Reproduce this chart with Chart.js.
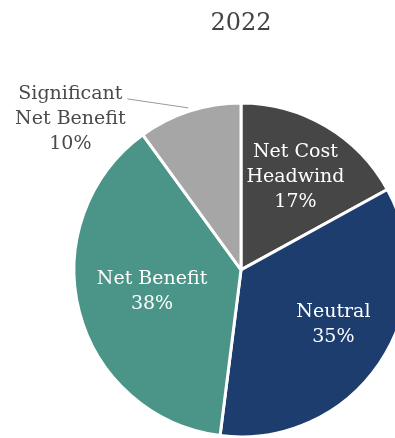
<!DOCTYPE html>
<html>
<head>
<meta charset="utf-8">
<script src="https://cdn.jsdelivr.net/npm/chart.js@4/dist/chart.umd.min.js"></script>
<style>
  html, body { margin: 0; padding: 0; background: #fff; overflow: hidden; }
  body { width: 395px; height: 438px; position: relative; }
  #pie { position: absolute; left: 0; top: 0; }
</style>
</head>
<body>
<canvas id="pie" width="482" height="492"></canvas>
<script>
// Shares for 2022, clockwise from 12 o'clock
const categories = ['Net Cost Headwind', 'Neutral', 'Net Benefit', 'Significant Net Benefit'];
const shares = [17, 35, 38, 10];
const sliceColors = ['#464646', '#1c3d6d', '#4a9488', '#a6a6a6'];
const labelLines = [['Net Cost', 'Headwind'], ['Neutral'], ['Net Benefit'], ['Significant', 'Net Benefit']];

const FONT = '"DejaVu Serif", "Liberation Serif", serif';

// label placement per slice: fraction of radius along the slice's middle angle
const labelSpots = [
  { r: 0.64, dx: 0, dy: -1, inside: true },
  { r: 0.64, dx: 4, dy: -5, inside: true },
  { r: 0.55, dx: 0, dy: -1, inside: true },
  { r: 1.02, inside: false }
];

const sliceLabels = {
  id: 'sliceLabels',
  afterDatasetsDraw(chart) {
    const ctx = chart.ctx;
    const arcs = chart.getDatasetMeta(0).data;
    ctx.save();
    ctx.font = '19px ' + FONT;
    ctx.textAlign = 'center';
    ctx.textBaseline = 'middle';
    const lh = 25;
    arcs.forEach((arc, i) => {
      const { x, y, startAngle, endAngle, outerRadius } = arc.getProps(['x', 'y', 'startAngle', 'endAngle', 'outerRadius'], true);
      const mid = (startAngle + endAngle) / 2;
      const spot = labelSpots[i];
      const lines = labelLines[i].concat([shares[i] + '%']);
      if (spot.inside) {
        const cx = x + Math.cos(mid) * outerRadius * spot.r + spot.dx;
        const cy = y + Math.sin(mid) * outerRadius * spot.r + spot.dy;
        ctx.fillStyle = '#ffffff';
        lines.forEach((t, k) => ctx.fillText(t, cx, cy + (k - (lines.length - 1) / 2) * lh));
      } else {
        // outside label with a leader line
        const ax = x + Math.cos(mid) * outerRadius * spot.r;
        const ay = y + Math.sin(mid) * outerRadius * spot.r;
        const ex = ax - 61, ey = ay - 9;
        ctx.strokeStyle = '#9a9a9a';
        ctx.lineWidth = 1;
        ctx.beginPath();
        ctx.moveTo(ax, ay);
        ctx.lineTo(ex, ey);
        ctx.stroke();
        const tx = ex - 57, ty = ey - 5;
        ctx.fillStyle = '#4a4a4a';
        lines.forEach((t, k) => ctx.fillText(t, tx, ty + k * lh));
      }
    });
    ctx.restore();
  }
};

new Chart(document.getElementById('pie'), {
  type: 'pie',
  data: {
    labels: categories,
    datasets: [{
      data: shares,
      backgroundColor: sliceColors,
      borderColor: '#ffffff',
      borderWidth: 3
    }]
  },
  options: {
    responsive: false,
    animation: false,
    radius: 167,
    plugins: {
      legend: { display: false },
      tooltip: { enabled: false },
      title: {
        display: true,
        text: '2022',
        color: '#444444',
        font: { family: FONT, size: 24, weight: 'normal' },
        padding: { top: 9, bottom: 10 }
      }
    }
  },
  plugins: [sliceLabels]
});
</script>
</body>
</html>
